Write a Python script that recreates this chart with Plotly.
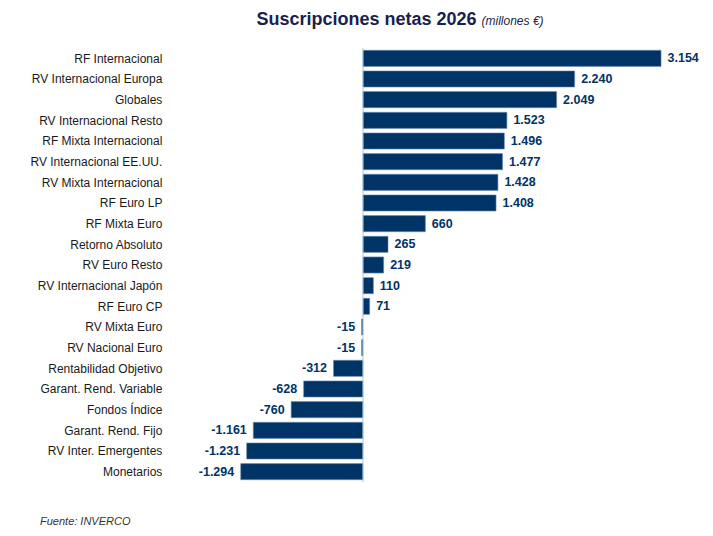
import plotly.graph_objects as go

# Suscripciones netas 2026 por categoría (millones de euros)
categorias = [
    "RF Internacional", "RV Internacional Europa", "Globales",
    "RV Internacional Resto", "RF Mixta Internacional", "RV Internacional EE.UU.",
    "RV Mixta Internacional", "RF Euro LP", "RF Mixta Euro", "Retorno Absoluto",
    "RV Euro Resto", "RV Internacional Japón", "RF Euro CP", "RV Mixta Euro",
    "RV Nacional Euro", "Rentabilidad Objetivo", "Garant. Rend. Variable",
    "Fondos Índice", "Garant. Rend. Fijo", "RV Inter. Emergentes", "Monetarios",
]
valores = [3154, 2240, 2049, 1523, 1496, 1477, 1428, 1408, 660, 265,
           219, 110, 71, -15, -15, -312, -628, -760, -1161, -1231, -1294]

navy = "#003366"
font_main = "Liberation Sans, Arial, sans-serif"


def fmt(v):
    # separador de miles con punto, estilo español, con un pequeño hueco junto a la barra
    s = f"{v:,}".replace(",", ".")
    return "\u00a0" + s if v >= 0 else s + "\u00a0"


etiquetas = [fmt(v) for v in valores]

fig = go.Figure(go.Bar(
    x=valores,
    y=categorias,
    orientation="h",
    marker=dict(color=navy, line=dict(color="#6f8fb3", width=0.6)),
    text=etiquetas,
    textposition="outside",
    cliponaxis=False,
    textfont=dict(family=font_main, size=12.5, color=navy, weight="bold"),
))

fig.update_layout(
    width=705, height=528,
    margin=dict(l=162, r=8, t=40, b=54),
    paper_bgcolor="white", plot_bgcolor="white",
    bargap=0.22,
    showlegend=False,
    title=dict(
        text="<b>Suscripciones netas 2026</b> <i><span style='font-size:12px'>(millones €)</span></i>",
        x=0.556, xanchor="center", y=0.992, yanchor="top",
        font=dict(family=font_main, size=18, color="#1a1f4e"),
    ),
    xaxis=dict(
        range=[-2042, 3619], visible=False,
        zeroline=False, showgrid=False,
    ),
    yaxis=dict(
        autorange="reversed", automargin=False,
        tickfont=dict(family=font_main, size=12, color="#1a1a1a"),
        ticks="", showgrid=False, ticksuffix="  ",
    ),
    shapes=[dict(
        type="line", xref="x", yref="paper", x0=0, x1=0, y0=0, y1=1,
        line=dict(color="#a9c4e4", width=1),
    )],
    annotations=[dict(
        text="<i>Fuente: INVERCO</i>", xref="paper", yref="paper",
        x=-0.247, y=-0.09, xanchor="left", yanchor="middle", showarrow=False,
        font=dict(family=font_main, size=11, color="#333333"),
    )],
)

fig.write_html("out.html")
